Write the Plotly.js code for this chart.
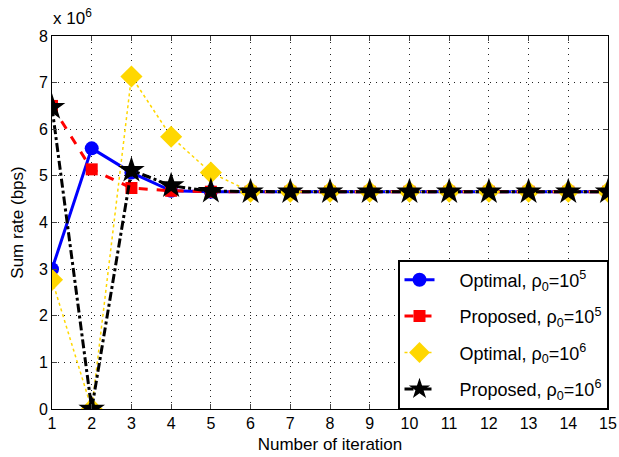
<!DOCTYPE html>
<html><head><meta charset="utf-8">
<script src="https://cdn.plot.ly/plotly-3.0.1.min.js"></script>
<style>body{margin:0;padding:0;background:#fff}</style>
</head><body>
<div id="chart" style="width:619px;height:457px"></div>
<script>
const iterations = [1,2,3,4,5,6,7,8,9,10,11,12,13,14,15];
const optimal1e5 = [3.0,5.59,5.07,4.68,4.66,4.66,4.66,4.66,4.66,4.66,4.66,4.66,4.66,4.66,4.66];
const proposed1e5 = [6.5,5.14,4.74,4.68,4.66,4.66,4.66,4.66,4.66,4.66,4.66,4.66,4.66,4.66,4.66];
const optimal1e6 = [2.77,0.0,7.13,5.84,5.07,4.66,4.66,4.66,4.66,4.66,4.66,4.66,4.66,4.66,4.66];
const proposed1e6 = [6.47,0.0,5.12,4.79,4.67,4.66,4.66,4.66,4.66,4.66,4.66,4.66,4.66,4.66,4.66];
const seriesNames = ['Optimal, ρ<sub>0</sub>=10<sup>5</sup>','Proposed, ρ<sub>0</sub>=10<sup>5</sup>','Optimal, ρ<sub>0</sub>=10<sup>6</sup>','Proposed, ρ<sub>0</sub>=10<sup>6</sup>'];
const yTicks = [0,1,2,3,4,5,6,7,8];
const scale = 1e6;
const toBps = a => a.map(v => v*scale);
const pad = '\u00A0\u00A0\u00A0\u00A0';

const traces = [
 {x:iterations,y:toBps(optimal1e5),name:pad+seriesNames[0],legendgroup:'a',mode:'lines+markers',
  line:{color:'#0000ff',width:3,dash:'solid'},marker:{symbol:'circle',size:14,color:'#0000ff'}},
 {x:iterations,y:toBps(proposed1e5),name:pad+seriesNames[1],legendgroup:'b',mode:'lines+markers',
  line:{color:'#ff0000',width:3,dash:'dash'},marker:{symbol:'square',size:12,color:'#ff0000'}},
 {x:iterations,y:toBps(optimal1e6),name:pad+seriesNames[2],legendgroup:'c',mode:'lines+markers',
  line:{color:'#ffd700',width:1.5,dash:'dot'},marker:{symbol:'diamond',size:17,color:'#ffd700'}},
 {x:iterations,y:toBps(proposed1e6),name:pad+seriesNames[3],legendgroup:'d',mode:'lines+markers',
  line:{color:'#000000',width:3,dash:'dashdot'},marker:{symbol:'star',size:20,color:'#000000'}}
];
const fam = 'Liberation Sans';
const fnt = {family:fam,size:17,color:'#000'};
const layout = {
 width:619,height:457,
 margin:{l:52,r:11,t:36,b:48},
 paper_bgcolor:'#fff',plot_bgcolor:'#fff',
 font:fnt,
 showlegend:true,
 legend:{x:1,y:0,xanchor:'right',yanchor:'bottom',bgcolor:'#fff',bordercolor:'#000',borderwidth:1.5,
   font:{family:fam,size:18,color:'#000'},traceorder:'grouped',tracegroupgap:10},
 xaxis:{range:[1,15],tickvals:iterations,ticks:'inside',ticklen:5,showline:true,linecolor:'#000',linewidth:1,
   mirror:'ticks',showgrid:true,gridcolor:'#222',griddash:'1px,5px',gridwidth:1,zeroline:false,
   title:{text:'Number of iteration',font:fnt,standoff:6},tickfont:{family:fam,size:16,color:'#000'}},
 yaxis:{range:[0,8e6],tickvals:toBps(yTicks),ticktext:yTicks.map(String),
   ticks:'inside',ticklen:5,showline:true,linecolor:'#000',linewidth:1,
   mirror:'ticks',showgrid:true,gridcolor:'#222',griddash:'1px,5px',gridwidth:1,zeroline:false,
   title:{text:'Sum rate (bps)',font:fnt,standoff:10},tickfont:{family:fam,size:16,color:'#000'}},
 annotations:[{xref:'paper',yref:'paper',x:0,y:1,xanchor:'left',yanchor:'bottom',xshift:-1,yshift:6,
   text:'x 10<sup>6</sup>',showarrow:false,font:fnt}]
};
Plotly.newPlot('chart',traces,layout,{displayModeBar:false,staticPlot:true});
</script>
</body></html>
